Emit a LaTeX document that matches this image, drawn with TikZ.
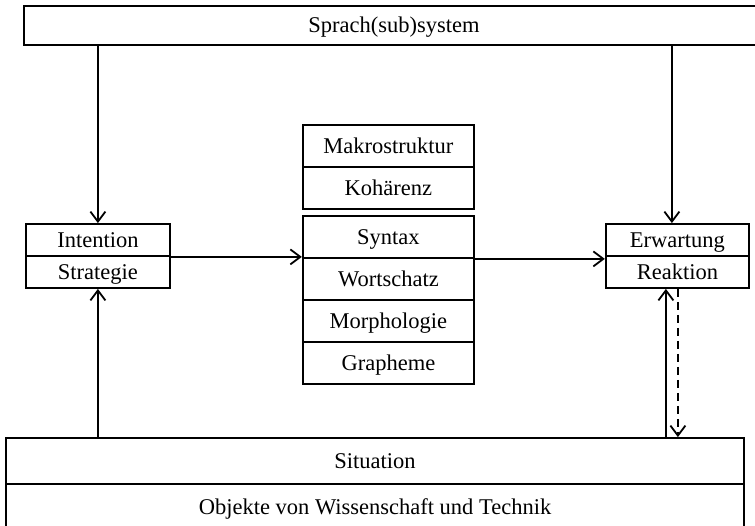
\documentclass[tikz,border=0pt]{standalone}
\usepackage{fontspec}
\setmainfont{Liberation Serif}
\usetikzlibrary{arrows.meta}
\begin{document}
\begin{tikzpicture}[x=1pt,y=-1pt,
  line width=1.8pt,
  font=\fontsize{22.5}{26}\selectfont,
  cell/.style={draw, line width=1.8pt, inner sep=0pt, rectangle, anchor=center,
    text height=17pt, text depth=3pt},
  arr/.style={-{Straight Barb[length=10pt,width=15pt,line width=1.8pt]}},
]
\useasboundingbox (0,0) rectangle (755,525);

% top system box (runs past the right edge)
\node[cell, minimum width=740pt, minimum height=39pt] (sys) at (394,25.5) {Sprach(sub)system};

% left pair
\node[cell, minimum width=144pt, minimum height=32pt] (intent) at (97.9,240) {Intention};
\node[cell, minimum width=144pt, minimum height=32pt] (strat)  at (97.9,272) {Strategie};

% right pair
\node[cell, minimum width=143.3pt, minimum height=32pt] (erw) at (677.4,240) {Erwartung};
\node[cell, minimum width=143.3pt, minimum height=32pt] (reak) at (677.4,272) {Reaktion};

% middle stacks
\node[cell, minimum width=171.3pt, minimum height=42pt] (makro) at (388.4,146) {Makrostruktur};
\node[cell, minimum width=171.3pt, minimum height=42pt] (koh)   at (388.4,188) {Kohärenz};
\node[cell, minimum width=171.3pt, minimum height=42pt] (syn)   at (388.4,237) {Syntax};
\node[cell, minimum width=171.3pt, minimum height=42pt] (wort)  at (388.4,279) {Wortschatz};
\node[cell, minimum width=171.3pt, minimum height=42pt] (morph) at (388.4,321) {Morphologie};
\node[cell, minimum width=171.3pt, minimum height=42pt] (graph) at (388.4,363) {Grapheme};

% bottom box (runs past the lower edge)
\node[cell, minimum width=738pt, minimum height=46pt] (sit) at (375,461) {Situation};
\node[cell, minimum width=738pt, minimum height=46pt] (obj) at (375,507) {Objekte von Wissenschaft und Technik};

% connectors
\coordinate (erwin) at ([xshift=-5.5pt]erw.north);
\coordinate (reakup) at ([xshift=-11.5pt]reak.south);
\draw[arr] (intent.north |- sys.south) -- (intent.north);
\draw[arr] (erwin |- sys.south) -- (erwin);
\draw[arr] (strat.south |- sit.north) -- (strat.south);
\draw[arr] (intent.south east) -- (intent.south east -| syn.west);
\draw[arr] (syn.south east) -- (syn.south east -| erw.west);
\draw[arr] (reakup |- sit.north) -- (reakup);
\draw[arr, dash pattern=on 8pt off 5pt] ([xshift=0.5pt]reak.south) -- ([xshift=0.5pt]reak.south |- sit.north);
\end{tikzpicture}
\end{document}
